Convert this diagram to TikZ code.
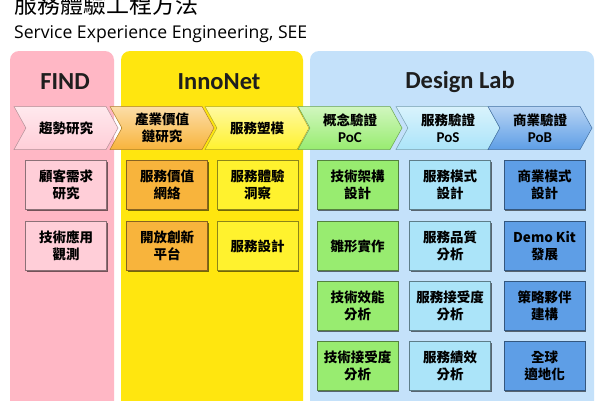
\documentclass[tikz,border=0pt]{standalone}
\usepackage{fontspec}
\setmainfont{Carlito}
\newfontfamily\cjk{Noto Sans CJK TC}
\newfontfamily\subfont{Open Sans}
\newcommand\latinfont{\normalfont\bfseries\fontsize{15}{16.5}\selectfont}
\usetikzlibrary{shapes.symbols,shadows}
\definecolor{findpink}{HTML}{FFB7C5}
\definecolor{innoyellow}{HTML}{FFE60F}
\definecolor{labblue}{HTML}{C4E1FA}
\definecolor{pinkbox}{HTML}{FFCED8}
\definecolor{orangebox}{HTML}{F8B43C}
\definecolor{yellowbox}{HTML}{FFF22E}
\definecolor{greenbox}{HTML}{98EC70}
\definecolor{cyanbox}{HTML}{ABE4F9}
\definecolor{bluebox}{HTML}{5E9EE6}
\definecolor{headgray}{HTML}{1E1E1E}

\begin{document}
\begin{tikzpicture}[
    x=1pt, y=-1pt,
    panel/.style={rounded corners=9pt},
    head/.style={font=\bfseries\fontsize{24.5}{28}\selectfont, text=headgray},
    chev/.style={signal, signal to=east, signal from=west,
                 signal pointer angle=122, minimum width=104pt,
                 minimum height=43pt, inner sep=0pt, align=center,
                 top color=#1!45!white, bottom color=#1,
                 draw=#1!70!black, line width=0.5pt,
                 font=\cjk\bfseries\fontsize{13.5}{16.5}\selectfont},
    sbox/.style={rectangle, minimum width=81pt, minimum height=49pt,
                 inner sep=0pt, align=center, fill=#1,
                 draw=#1!55!black, line width=0.7pt,
                 drop shadow={shadow xshift=1.2pt, shadow yshift=-1.6pt,
                              opacity=0.55, fill=black},
                 font=\cjk\bfseries\fontsize{13.5}{16.8}\selectfont}
  ]
  \useasboundingbox (0,0) rectangle (600,400);
  \fill[white] (0,0) rectangle (600,400);

  % ---- Title ----
  \node[anchor=base west, inner sep=0pt, font=\cjk\fontsize{23}{26}\selectfont]
    (title) at (14,13) {服務體驗工程方法};
  \node[anchor=base west, inner sep=0pt, font=\subfont\fontsize{17.6}{20}\selectfont]
    (subtitle) at (14,38) {Service Experience Engineering, SEE};

  % ---- Three stage panels ----
  \fill[panel, findpink]   (10,51) rectangle (114,412);
  \fill[panel, innoyellow] (121,51) rectangle (303,412);
  \fill[panel, labblue]    (310,51) rectangle (594,412);

  \node[head] (find) at (65,82) {FIND};
  \node[head] (inno) at (219,82) {InnoNet};
  \node[head] (lab)  at (460,82) {Design Lab};

  % ---- Process chevrons ----
  \node[chev=pinkbox]    (c1) at (66,128)  {趨勢研究};
  \node[chev=orangebox]  (c2) at (162,128) {產業價值\\鏈研究};
  \node[chev=yellowbox]  (c3) at (257,128) {服務塑模};
  \node[chev=greenbox]   (c4) at (350,128) {概念驗證\\{\latinfont PoC}};
  \node[chev=cyanbox]    (c5) at (448,128) {服務驗證\\{\latinfont PoS}};
  \node[chev=bluebox]    (c6) at (540,128) {商業驗證\\{\latinfont PoB}};

  % ---- FIND boxes ----
  \node[sbox=pinkbox] (f1) at (66,185) {顧客需求\\研究};
  \node[sbox=pinkbox] (f2) at (66,246) {技術應用\\觀測};

  % ---- InnoNet boxes ----
  \node[sbox=orangebox] (i1) at (167,185) {服務價值\\網絡};
  \node[sbox=orangebox] (i2) at (167,246) {開放創新\\平台};
  \node[sbox=yellowbox] (i3) at (257.5,185) {服務體驗\\洞察};
  \node[sbox=yellowbox] (i4) at (257.5,246) {服務設計};

  % ---- Design Lab boxes ----
  \node[sbox=greenbox] (d1) at (357.5,185) {技術架構\\設計};
  \node[sbox=greenbox] (d2) at (357.5,246) {雛形實作};
  \node[sbox=greenbox] (d3) at (357.5,306) {技術效能\\分析};
  \node[sbox=greenbox] (d4) at (357.5,366) {技術接受度\\分析};

  \node[sbox=cyanbox] (s1) at (450,185) {服務模式\\設計};
  \node[sbox=cyanbox] (s2) at (450,246) {服務品質\\分析};
  \node[sbox=cyanbox] (s3) at (450,306) {服務接受度\\分析};
  \node[sbox=cyanbox] (s4) at (450,366) {服務績效\\分析};

  \node[sbox=bluebox] (b1) at (544.5,185) {商業模式\\設計};
  \node[sbox=bluebox] (b2) at (544.5,246) {Demo Kit\\發展};
  \node[sbox=bluebox] (b3) at (544.5,306) {策略夥伴\\建構};
  \node[sbox=bluebox] (b4) at (544.5,366) {全球\\適地化};

\end{tikzpicture}
\end{document}
